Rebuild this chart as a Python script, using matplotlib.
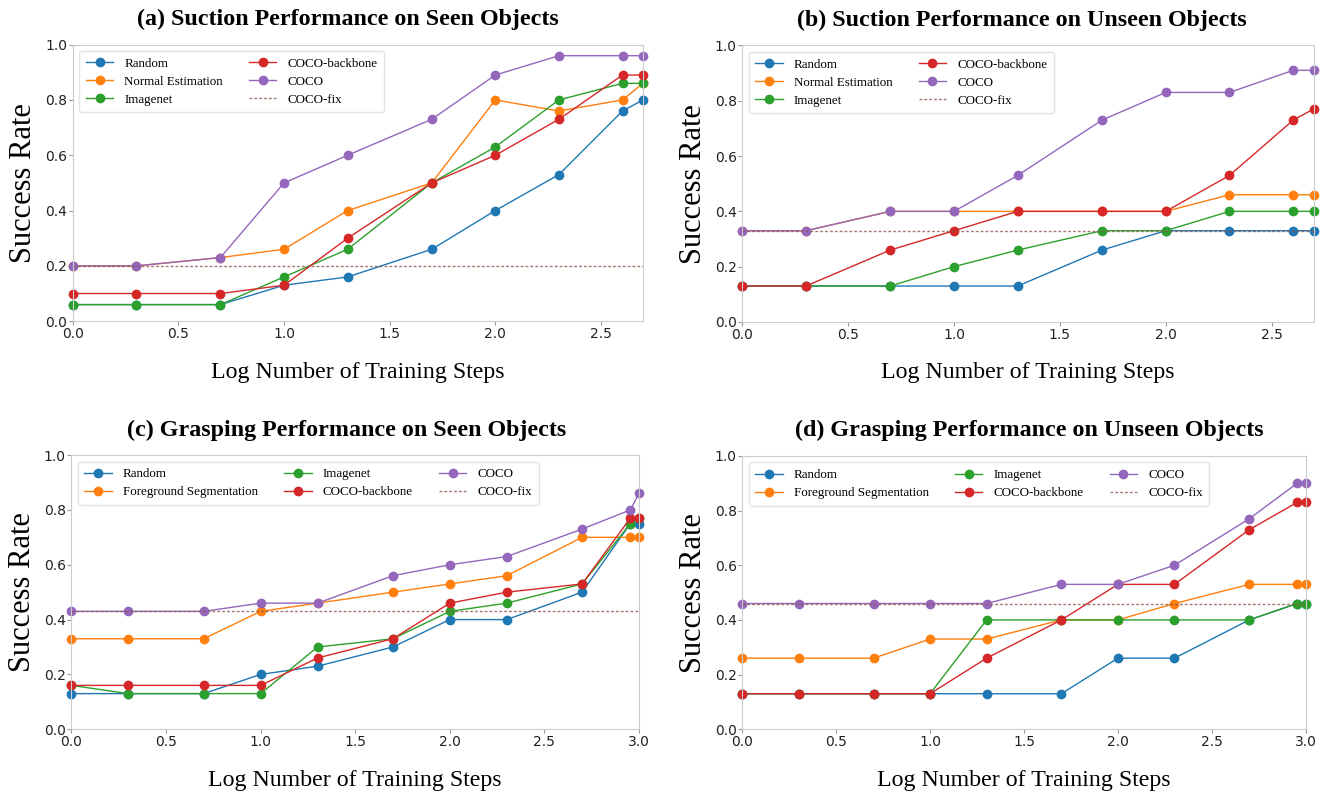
import numpy as np
import matplotlib
matplotlib.use("Agg")
import matplotlib.pyplot as plt

# training steps, plotted as log10
steps_suction = [1, 2, 5, 10, 20, 50, 100, 200, 400, 500]
steps_grasp = [1, 2, 5, 10, 20, 50, 100, 200, 500, 900, 1000]

# (a) suction, seen objects
a_random = [0.06, 0.06, 0.06, 0.13, 0.16, 0.26, 0.40, 0.53, 0.76, 0.80]
a_normal = [0.20, 0.20, 0.23, 0.26, 0.40, 0.50, 0.80, 0.76, 0.80, 0.86]
a_imagenet = [0.06, 0.06, 0.06, 0.16, 0.26, 0.50, 0.63, 0.80, 0.86, 0.86]
a_backbone = [0.10, 0.10, 0.10, 0.13, 0.30, 0.50, 0.60, 0.73, 0.89, 0.89]
a_coco = [0.20, 0.20, 0.23, 0.50, 0.60, 0.73, 0.89, 0.96, 0.96, 0.96]
a_fix = 0.20

# (b) suction, unseen objects
b_random = [0.13, 0.13, 0.13, 0.13, 0.13, 0.26, 0.33, 0.33, 0.33, 0.33]
b_normal = [0.33, 0.33, 0.40, 0.40, 0.40, 0.40, 0.40, 0.46, 0.46, 0.46]
b_imagenet = [0.13, 0.13, 0.13, 0.20, 0.26, 0.33, 0.33, 0.40, 0.40, 0.40]
b_backbone = [0.13, 0.13, 0.26, 0.33, 0.40, 0.40, 0.40, 0.53, 0.73, 0.77]
b_coco = [0.33, 0.33, 0.40, 0.40, 0.53, 0.73, 0.83, 0.83, 0.91, 0.91]
b_fix = 0.33

# (c) grasping, seen objects
c_random = [0.13, 0.13, 0.13, 0.20, 0.23, 0.30, 0.40, 0.40, 0.50, 0.75, 0.75]
c_fg = [0.33, 0.33, 0.33, 0.43, 0.46, 0.50, 0.53, 0.56, 0.70, 0.70, 0.70]
c_imagenet = [0.16, 0.13, 0.13, 0.13, 0.30, 0.33, 0.43, 0.46, 0.53, 0.75, 0.77]
c_backbone = [0.16, 0.16, 0.16, 0.16, 0.26, 0.33, 0.46, 0.50, 0.53, 0.77, 0.77]
c_coco = [0.43, 0.43, 0.43, 0.46, 0.46, 0.56, 0.60, 0.63, 0.73, 0.80, 0.86]
c_fix = 0.43

# (d) grasping, unseen objects
d_random = [0.13, 0.13, 0.13, 0.13, 0.13, 0.13, 0.26, 0.26, 0.40, 0.46, 0.46]
d_fg = [0.26, 0.26, 0.26, 0.33, 0.33, 0.40, 0.40, 0.46, 0.53, 0.53, 0.53]
d_imagenet = [0.13, 0.13, 0.13, 0.13, 0.40, 0.40, 0.40, 0.40, 0.40, 0.46, 0.46]
d_backbone = [0.13, 0.13, 0.13, 0.13, 0.26, 0.40, 0.53, 0.53, 0.73, 0.83, 0.83]
d_coco = [0.46, 0.46, 0.46, 0.46, 0.46, 0.53, 0.53, 0.60, 0.77, 0.90, 0.90]
d_fix = 0.46

serif = "Liberation Serif"

fig = plt.figure(figsize=(13.23, 7.97), dpi=100)


def panel(rect, title, steps, series, fix, ncol, title_x=0.5):
    ax = fig.add_axes(rect)
    x = np.log10(steps)
    colors = ["tab:blue", "tab:orange", "tab:green", "tab:red", "tab:purple"]
    for (label, vals), c in zip(series, colors):
        ax.plot(x, vals, color=c, lw=1, marker="o", ms=6, label=label, clip_on=False)
    ax.plot([x[0], x[-1]], [fix, fix], color="tab:brown", lw=1, ls="--",
            dashes=(2, 1.5), alpha=0.8, label="COCO-fix")
    ax.set_xlim(0, x[-1])
    ax.set_ylim(0, 1.0)
    ax.set_title(title, fontfamily=serif, fontweight="bold", fontsize=17.3, pad=14, x=title_x)
    ax.set_ylabel("Success Rate", fontfamily=serif, fontsize=22, labelpad=5)
    ax.set_xlabel("Log Number of Training Steps", fontfamily=serif, fontsize=17.2, labelpad=15)
    for s in ax.spines.values():
        s.set_color("#cccccc")
    ax.tick_params(labelsize=10, length=3, color="#999999", labelcolor="#222222", pad=1)
    ax.legend(ncol=ncol, loc="upper left", prop={"family": serif, "size": 9.4},
              edgecolor="#dddddd", handlelength=2.1, handletextpad=0.85,
              columnspacing=2.0, borderpad=0.5, labelspacing=0.45)
    return ax


panel([0.055, 0.597, 0.431, 0.347], "(a) Suction Performance on Seen Objects", steps_suction,
      [("Random", a_random), ("Normal Estimation", a_normal), ("Imagenet", a_imagenet),
       ("COCO-backbone", a_backbone), ("COCO", a_coco)], a_fix, 2, title_x=0.483)
panel([0.561, 0.596, 0.432, 0.347], "(b) Suction Performance on Unseen Objects", steps_suction,
      [("Random", b_random), ("Normal Estimation", b_normal), ("Imagenet", b_imagenet),
       ("COCO-backbone", b_backbone), ("COCO", b_coco)], b_fix, 2, title_x=0.49)
panel([0.054, 0.085, 0.429, 0.344], "(c) Grasping Performance on Seen Objects", steps_grasp,
      [("Random", c_random), ("Foreground Segmentation", c_fg), ("Imagenet", c_imagenet),
       ("COCO-backbone", c_backbone), ("COCO", c_coco)], c_fix, 3, title_x=0.485)
panel([0.561, 0.085, 0.426, 0.343], "(d) Grasping Performance on Unseen Objects", steps_grasp,
      [("Random", d_random), ("Foreground Segmentation", d_fg), ("Imagenet", d_imagenet),
       ("COCO-backbone", d_backbone), ("COCO", d_coco)], d_fix, 3, title_x=0.51)

fig.savefig("out.png", dpi=100)
